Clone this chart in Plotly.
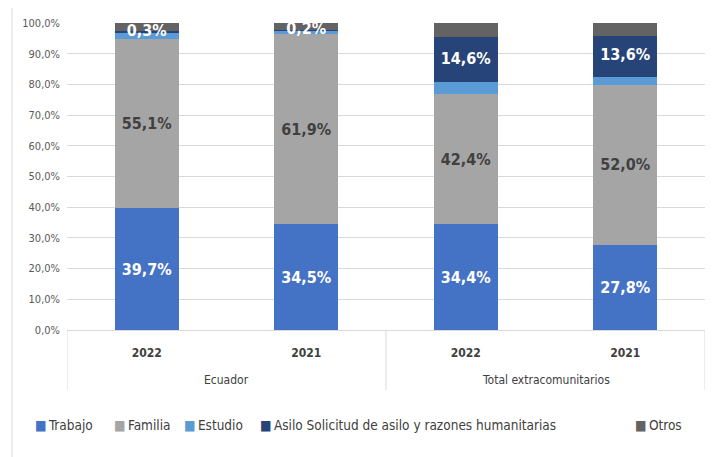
import plotly.graph_objects as go

groups = ["Ecuador", "Ecuador", "Total extracomunitarios", "Total extracomunitarios"]
years = ["2022", "2021", "2022", "2021"]
trabajo = [39.7, 34.5, 34.4, 27.8]
familia = [55.1, 61.9, 42.4, 52.0]
estudio = [2.2, 1.2, 3.9, 2.5]
asilo = [0.3, 0.2, 14.6, 13.6]
otros = [2.7, 2.2, 4.7, 4.1]
series_names = ["Trabajo", "Familia", "Estudio",
                "Asilo Solicitud de asilo y razones humanitarias", "Otros"]
colors = ["#4472C4", "#A5A5A5", "#5B9BD5", "#264478", "#636363"]

FONT = "Liberation Sans Narrow, Arial Narrow, DejaVu Sans Condensed, sans-serif"

# page body adds an 8px offset; work in page pixels and convert
OFF = 8
FW, FH = 715 - OFF, 457 - OFF
L, R, T, B = 67 - OFF, 705 - OFF, 23 - OFF, 330 - OFF
W, H = R - L, B - T
def px(xp):
    return (xp - OFF - L) / W
def py(yp):
    return (B - (yp - OFF)) / H

keys = [g + " " + y for g, y in zip(groups, years)]

def lbl(vals):
    return [("%.1f" % v).replace(".", ",") + "%" for v in vals]

fig = go.Figure()
data = [trabajo, familia, estudio, asilo, otros]
for name, vals, col in zip(series_names, data, colors):
    fig.add_trace(go.Bar(name=name, x=keys, y=vals, marker_color=col,
                         marker_line_width=0, showlegend=False))

fig.data[0].update(text=lbl(trabajo), textposition="inside", insidetextanchor="middle",
                   textfont=dict(color="white", size=16, family=FONT, weight="bold"))
fig.data[1].update(text=lbl(familia), textposition="inside", insidetextanchor="middle",
                   textfont=dict(color="#404040", size=16, family=FONT, weight="bold"))

# Asilo labels at the segment midpoints
mid = [t + f + e + a / 2 for t, f, e, a in zip(trabajo, familia, estudio, asilo)]
fig.add_trace(go.Scatter(x=keys, y=mid, mode="text", text=lbl(asilo), showlegend=False,
                         textfont=dict(color="white", size=16, family=FONT, weight="bold"),
                         hoverinfo="skip", cliponaxis=False))

annotations = []
seen = []
for i, g in enumerate(groups):
    if g in seen:
        continue
    seen.append(g)
    idx = [j for j, gg in enumerate(groups) if gg == g]
    annotations.append(dict(x=sum(idx) / len(idx), xref="x", y=py(380), yref="paper",
                            text=g, showarrow=False, xanchor="center", yanchor="middle",
                            font=dict(size=12, color="#404040", family=FONT)))

# manual legend
leg_x = [33, 112, 182, 258, 633]
for name, col, lx in zip(series_names, colors, leg_x):
    annotations.append(dict(x=px(lx), xref="paper", y=py(425), yref="paper",
                            text="<span style='color:%s'>■</span>\u2009%s" % (col, name),
                            showarrow=False, xanchor="left", yanchor="middle",
                            font=dict(size=13.5, color="#404040", family=FONT)))

shapes = []
for xv in [-0.5, 1.5, 3.5]:
    shapes.append(dict(type="line", xref="x", yref="paper", x0=xv, x1=xv,
                       y0=0, y1=py(390), line=dict(color="#D9D9D9", width=1)))
shapes.append(dict(type="rect", xref="paper", yref="paper", x0=px(12), x1=px(730),
                   y0=py(470), y1=py(6), line=dict(color="#D9D9D9", width=1),
                   fillcolor="rgba(0,0,0,0)", layer="below"))

fig.update_layout(
    barmode="stack",
    bargap=0.6,
    width=FW, height=FH,
    margin=dict(l=L, r=FW - R, t=T, b=FH - B),
    paper_bgcolor="white", plot_bgcolor="white",
    separators=",.",
    font=dict(family=FONT, color="#404040"),
    uniformtext=dict(mode="show", minsize=8),
    showlegend=False,
    annotations=annotations,
    shapes=shapes,
    yaxis=dict(range=[0, 100], dtick=10, tickformat=".1f", ticksuffix="%",
               gridcolor="#D9D9D9", gridwidth=1, zeroline=False, automargin=False,
               tickfont=dict(size=11, color="#595959", family=FONT), ticks="", showline=False,
               ticklabelstandoff=6),
    xaxis=dict(type="category", range=[-0.5, 3.5], tickvals=keys,
               ticktext=["<b>" + y + "</b>" for y in years],
               showline=True, linecolor="#D9D9D9", automargin=False, ticks="",
               tickfont=dict(size=12, color="#404040", family=FONT),
               ticklabelstandoff=12),
)

fig.write_html("out.html")
